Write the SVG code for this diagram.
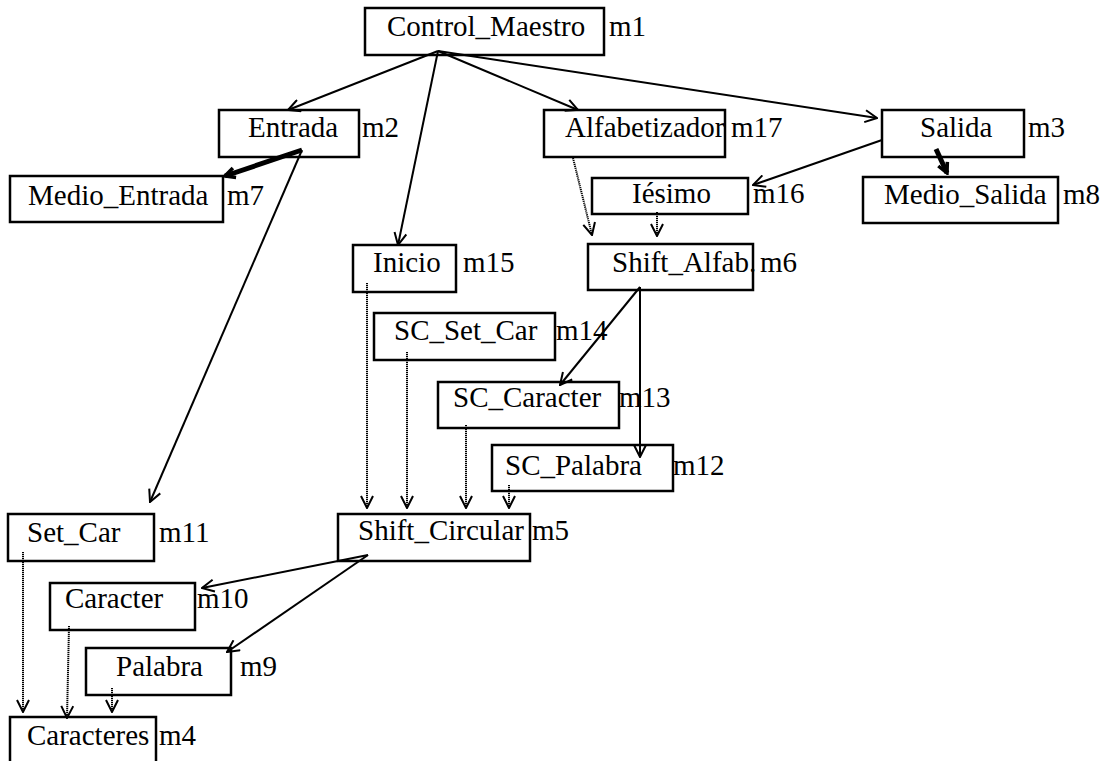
<svg xmlns="http://www.w3.org/2000/svg" width="1103" height="761" viewBox="0 0 1103 761">
<style>
.box{fill:#fff;stroke:#000;stroke-width:2.5}
text{font-family:"Liberation Serif","Times New Roman",serif;font-size:29px;fill:#000}
.ln{stroke:#000;stroke-width:2;fill:none;marker-end:url(#ah)}
.thick{stroke:#000;stroke-width:5;fill:none;marker-end:url(#ahb)}
.dot{stroke:#000;stroke-width:2;stroke-dasharray:1.2 0.8;fill:none;marker-end:url(#ah)}
</style>
<defs>
<marker id="ah" viewBox="0 0 14 14" refX="13" refY="7" markerWidth="14" markerHeight="14" markerUnits="userSpaceOnUse" orient="auto">
<path d="M1,1 L13,7 L1,13" fill="none" stroke="#000" stroke-width="2"/>
</marker>
<marker id="ahb" viewBox="0 0 14 14" refX="12" refY="7" markerWidth="14" markerHeight="14" markerUnits="userSpaceOnUse" orient="auto">
<path d="M2,2 L12,7 L2,12" fill="none" stroke="#000" stroke-width="3.5"/>
</marker>
</defs>
<g id="m1"><rect class="box" x="365" y="8" width="239" height="47"/><text x="387" y="36">Control_Maestro</text><text x="609" y="36">m1</text></g>
<g id="m2"><rect class="box" x="219" y="110" width="140" height="47"/><text x="248" y="137">Entrada</text><text x="362" y="137">m2</text></g>
<g id="m17"><rect class="box" x="544" y="110" width="181" height="47"/><text x="565" y="137">Alfabetizador</text><text x="731" y="137">m17</text></g>
<g id="m3"><rect class="box" x="882" y="110" width="142" height="47"/><text x="920" y="137">Salida</text><text x="1028" y="137">m3</text></g>
<g id="m7"><rect class="box" x="10" y="176" width="213" height="46"/><text x="28" y="205">Medio_Entrada</text><text x="227" y="205">m7</text></g>
<g id="m16"><rect class="box" x="592" y="178" width="156" height="36"/><text x="632" y="203">Iésimo</text><text x="753" y="203">m16</text></g>
<g id="m8"><rect class="box" x="863" y="177" width="195" height="46"/><text x="884" y="204">Medio_Salida</text><text x="1063" y="204">m8</text></g>
<g id="m15"><rect class="box" x="353" y="245" width="103" height="47"/><text x="373" y="272">Inicio</text><text x="463" y="272">m15</text></g>
<g id="m6"><rect class="box" x="588" y="244" width="165" height="46"/><text x="612" y="272">Shift_Alfab.</text><text x="760" y="272">m6</text></g>
<g id="m14"><rect class="box" x="374" y="313" width="181" height="47"/><text x="394" y="340">SC_Set_Car</text><text x="556" y="340">m14</text></g>
<g id="m13"><rect class="box" x="438" y="382" width="181" height="46"/><text x="453" y="407">SC_Caracter</text><text x="619" y="407">m13</text></g>
<g id="m12"><rect class="box" x="492" y="445" width="181" height="46"/><text x="505" y="475">SC_Palabra</text><text x="673" y="475">m12</text></g>
<g id="m5"><rect class="box" x="338" y="514" width="192" height="47"/><text x="358" y="540">Shift_Circular</text><text x="532" y="540">m5</text></g>
<g id="m11"><rect class="box" x="8" y="514" width="146" height="47"/><text x="27" y="542">Set_Car</text><text x="159" y="542">m11</text></g>
<g id="m10"><rect class="box" x="50" y="583" width="145" height="47"/><text x="65" y="608">Caracter</text><text x="197" y="608">m10</text></g>
<g id="m9"><rect class="box" x="86" y="648" width="145" height="47"/><text x="116" y="676">Palabra</text><text x="240" y="676">m9</text></g>
<g id="m4"><rect class="box" x="10" y="717" width="146" height="60"/><text x="27" y="745">Caracteres</text><text x="159" y="745">m4</text></g>
<g id="connectors">
<line class="ln" x1="438" y1="51" x2="288" y2="110"/>
<line class="ln" x1="438" y1="51" x2="398" y2="245"/>
<line class="ln" x1="438" y1="51" x2="578" y2="110"/>
<line class="ln" x1="438" y1="51" x2="877" y2="118"/>
<line class="thick" x1="302" y1="150" x2="225" y2="176"/>
<line class="ln" x1="302" y1="150" x2="150" y2="502"/>
<line class="ln" x1="882" y1="140" x2="753" y2="185"/>
<line class="thick" x1="936" y1="149" x2="947" y2="173"/>
<line class="ln" x1="640" y1="287" x2="560" y2="385"/>
<line class="ln" x1="640" y1="287" x2="640" y2="457"/>
<line class="ln" x1="368" y1="555" x2="202" y2="588"/>
<line class="ln" x1="368" y1="555" x2="227" y2="652"/>
<line class="dot" x1="573" y1="158" x2="592" y2="235"/>
<line class="dot" x1="657" y1="212" x2="657" y2="236"/>
<line class="dot" x1="367" y1="283" x2="367" y2="508"/>
<line class="dot" x1="407" y1="352" x2="407" y2="508"/>
<line class="dot" x1="466" y1="425" x2="466" y2="508"/>
<line class="dot" x1="509" y1="485" x2="509" y2="508"/>
<line class="dot" x1="23" y1="552" x2="23" y2="712"/>
<line class="dot" x1="69" y1="626" x2="67" y2="718"/>
<line class="dot" x1="112" y1="688" x2="112" y2="712"/>
</g>
</svg>
